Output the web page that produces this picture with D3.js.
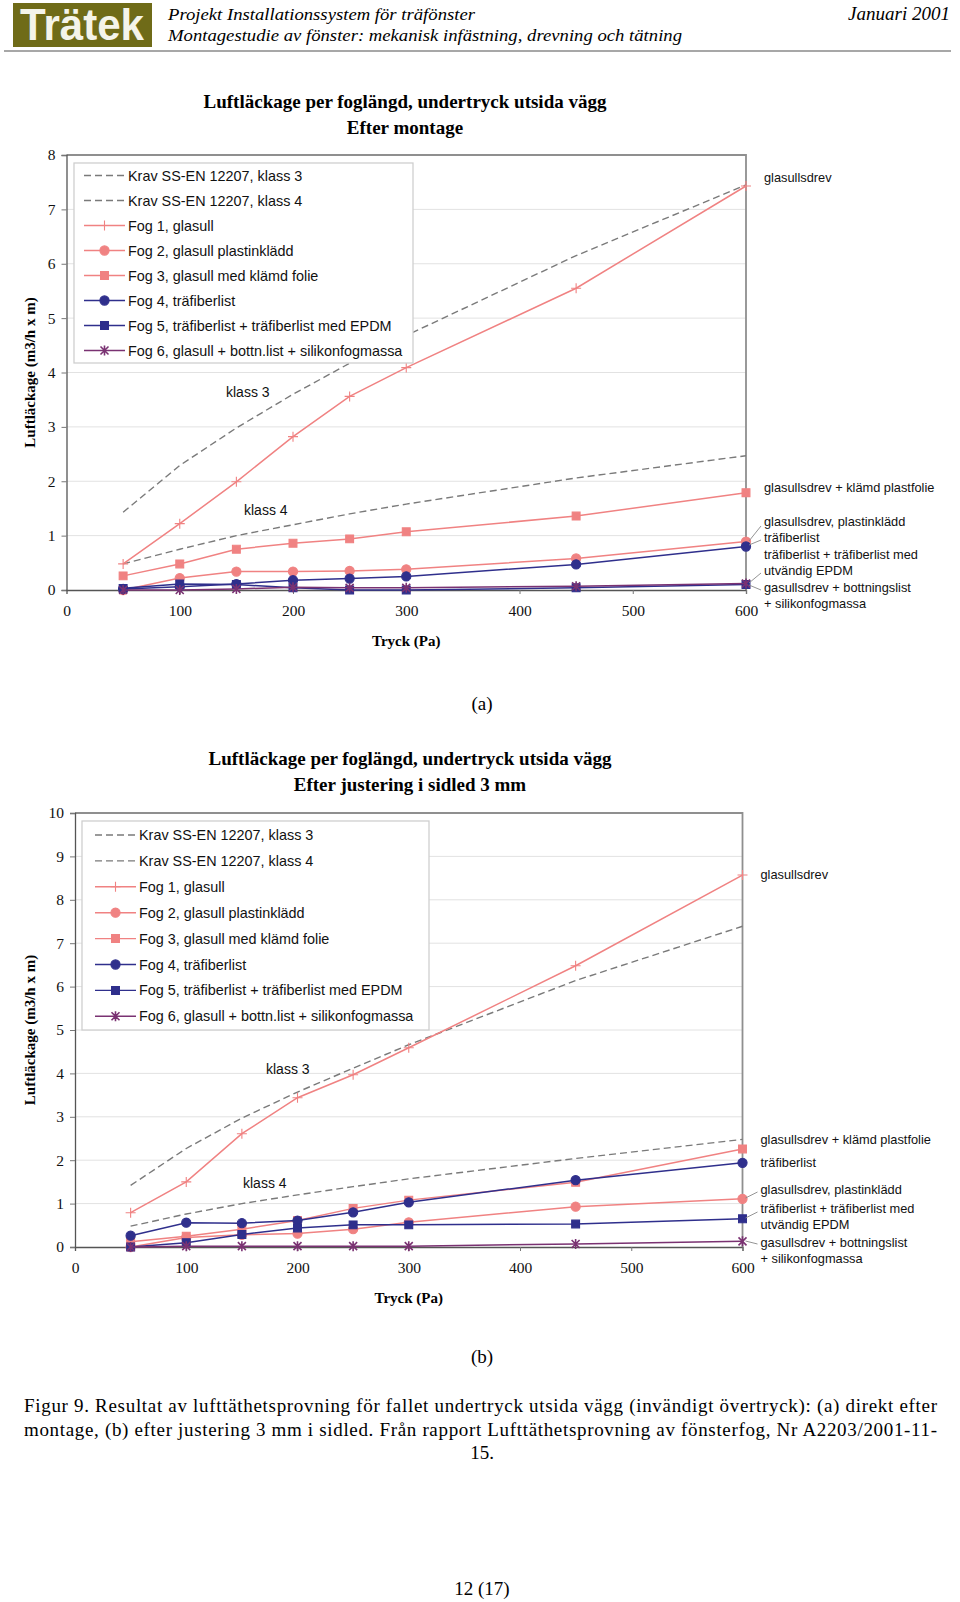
<!DOCTYPE html>
<html>
<head>
<meta charset="utf-8">
<script src="https://cdn.jsdelivr.net/npm/d3@7"></script>
<style>
  body { margin: 0; background: #fff; }
  svg { display: block; }
</style>
</head>
<body>
<div class="page"></div>
<script>
// pressure steps (Pa) and tick values
const pressure = [50, 100, 150, 200, 250, 300, 450, 600];
const xTicks = [0, 100, 200, 300, 400, 500, 600];
const yTicksA = [0, 1, 2, 3, 4, 5, 6, 7, 8];
const yTicksB = [0, 1, 2, 3, 4, 5, 6, 7, 8, 9, 10];

const seriesNames = [
  "Krav SS-EN 12207, klass 3",
  "Krav SS-EN 12207, klass 4",
  "Fog 1, glasull",
  "Fog 2, glasull plastinklädd",
  "Fog 3, glasull med klämd folie",
  "Fog 4, träfiberlist",
  "Fog 5, träfiberlist + träfiberlist med EPDM",
  "Fog 6, glasull + bottn.list + silikonfogmassa"
];

// (a) efter montage
const aKlass3 = [1.43, 2.29, 2.98, 3.60, 4.17, 4.68, 6.15, 7.45];
const aKlass4 = [0.48, 0.75, 1.00, 1.20, 1.40, 1.58, 2.06, 2.47];
const aFog1 = [0.48, 1.22, 1.99, 2.82, 3.56, 4.09, 5.55, 7.43];
const aFog2 = [0.00, 0.22, 0.34, 0.34, 0.35, 0.38, 0.58, 0.89];
const aFog3 = [0.26, 0.48, 0.75, 0.86, 0.94, 1.07, 1.36, 1.79];
const aFog4 = [0.02, 0.06, 0.11, 0.18, 0.21, 0.25, 0.47, 0.80];
const aFog5 = [0.03, 0.11, 0.10, 0.04, 0.00, 0.00, 0.04, 0.10];
const aFog6 = [0.00, 0.00, 0.02, 0.05, 0.04, 0.04, 0.07, 0.12];

// (b) efter justering i sidled 3 mm
const bKlass3 = [1.42, 2.27, 2.97, 3.57, 4.12, 4.66, 6.14, 7.39];
const bKlass4 = [0.48, 0.76, 1.00, 1.20, 1.39, 1.57, 2.04, 2.48];
const bFog1 = [0.79, 1.50, 2.61, 3.44, 3.97, 4.59, 6.48, 8.57];
const bFog2 = [0.00, 0.22, 0.28, 0.31, 0.41, 0.57, 0.93, 1.11];
const bFog3 = [0.12, 0.25, 0.41, 0.61, 0.89, 1.08, 1.49, 2.26];
const bFog4 = [0.26, 0.56, 0.55, 0.61, 0.80, 1.03, 1.54, 1.94];
const bFog5 = [0.00, 0.10, 0.29, 0.44, 0.51, 0.51, 0.53, 0.65];
const bFog6 = [0.00, 0.02, 0.02, 0.02, 0.02, 0.02, 0.07, 0.13];

const rightLabelsA = [
  ["glasullsdrev", 177, null],
  ["glasullsdrev + klämd plastfolie", 487, null],
  ["glasullsdrev, plastinklädd", 521, [541, 526]],
  ["träfiberlist", 537, [545, 540]],
  ["träfiberlist + träfiberlist med", 554, null],
  ["utvändig EPDM", 570, [583, 573]],
  ["gasullsdrev + bottningslist", 587, [585, 590]],
  ["+ silikonfogmassa", 603, null]
];
const rightLabelsB = [
  ["glasullsdrev", 874, null],
  ["glasullsdrev + klämd plastfolie", 1139, null],
  ["träfiberlist", 1162, null],
  ["glasullsdrev, plastinklädd", 1189, [1198, 1192]],
  ["träfiberlist + träfiberlist med", 1208, [1218, 1212]],
  ["utvändig EPDM", 1224, null],
  ["gasullsdrev + bottningslist", 1242, [1241, 1244]],
  ["+ silikonfogmassa", 1258, null]
];

const pink = "#f08282", navy = "#2f2f8c", purple = "#7a3272", dash = "#7a7a7a";
const serif = "'Liberation Serif', 'Times New Roman', serif";
const sans = "'Liberation Sans', Arial, sans-serif";

const styles = [
  {color: dash, dash: "7,4", marker: null},
  {color: dash, dash: "7,4", marker: null},
  {color: pink, marker: "plus"},
  {color: pink, marker: "circle"},
  {color: pink, marker: "square"},
  {color: navy, marker: "circle"},
  {color: navy, marker: "square"},
  {color: purple, marker: "star"}
];

const width = 960, height = 1602;
const svg = d3.select('.page').append('svg')
  .attr('width', width)
  .attr('height', height);

// page header
svg.append('rect').attr('x', 13).attr('y', 3).attr('width', 139).attr('height', 44).attr('fill', '#6f6b18');
svg.append('text').attr('x', 20).attr('y', 40).text('Trätek')
  .attr('fill', '#f4f4ea').attr('font-family', "'Liberation Sans Narrow', " + sans)
  .attr('font-weight', 'bold').attr('font-size', 45)
  .attr('textLength', 124).attr('lengthAdjust', 'spacingAndGlyphs');
svg.append('text').attr('x', 168).attr('y', 20).text('Projekt Installationssystem för träfönster')
  .attr('font-family', serif).attr('font-style', 'italic').attr('font-size', 17.5)
  .attr('textLength', 307).attr('lengthAdjust', 'spacingAndGlyphs');
svg.append('text').attr('x', 168).attr('y', 41).text('Montagestudie av fönster: mekanisk infästning, drevning och tätning')
  .attr('font-family', serif).attr('font-style', 'italic').attr('font-size', 17.5)
  .attr('textLength', 514).attr('lengthAdjust', 'spacingAndGlyphs');
svg.append('text').attr('x', 950).attr('y', 20).text('Januari 2001')
  .attr('font-family', serif).attr('font-style', 'italic').attr('font-size', 18)
  .attr('textLength', 102).attr('lengthAdjust', 'spacingAndGlyphs')
  .attr('text-anchor', 'end');
svg.append('line').attr('x1', 4).attr('x2', 951).attr('y1', 51).attr('y2', 51)
  .attr('stroke', '#8a8a8a').attr('stroke-width', 1.5);

function markerPath(type) {
  if (type === "plus") return "M-5,0H5M0,-5V5";
  if (type === "star") return "M-4,-4L4,4M-4,4L4,-4M0,-5V5";
  if (type === "square") return d3.symbol(d3.symbolSquare).size(62)();
  return d3.symbol(d3.symbolCircle).size(66)();
}

function drawPanel(cfg) {
  const g = svg.append('g');
  const x = d3.scaleLinear().domain([0, 600]).range([cfg.x0, cfg.x1]);
  const y = d3.scaleLinear().domain([0, cfg.yMax]).range([cfg.yBot, cfg.yTop]);

  // titles
  cfg.title.forEach((t, i) => {
    g.append('text').attr('x', cfg.titleX).attr('y', cfg.titleY + i * 26).text(t)
      .attr('font-family', serif).attr('font-weight', 'bold').attr('font-size', 19)
      .attr('text-anchor', 'middle');
  });

  // gridlines
  g.selectAll('.grid').data(cfg.yTicks.slice(1, -1)).enter().append('line')
    .attr('x1', cfg.x0).attr('x2', cfg.x1)
    .attr('y1', d => y(d)).attr('y2', d => y(d))
    .attr('stroke', '#e2e2e2').attr('stroke-width', 1);

  // top and right frame
  g.append('path')
    .attr('d', `M${cfg.x0},${cfg.yTop}H${cfg.x1}V${cfg.yBot}`)
    .attr('fill', 'none').attr('stroke', '#8f8f8f').attr('stroke-width', 1.8);

  // axes
  const yAxis = g.append('g').attr('transform', `translate(${cfg.x0},0)`)
    .call(d3.axisLeft(y).tickValues(cfg.yTicks).tickSize(5).tickPadding(6).tickFormat(d3.format('d')));
  const xAxis = g.append('g').attr('transform', `translate(0,${cfg.yBot})`)
    .call(d3.axisBottom(x).tickValues(xTicks).tickSize(4).tickPadding(11).tickFormat(d3.format('d')));
  [yAxis, xAxis].forEach(a => {
    a.select('.domain').attr('stroke', '#555').attr('stroke-width', 1.3);
    a.selectAll('.tick line').attr('stroke', '#777');
    a.selectAll('text').attr('font-family', serif).attr('font-size', 15.5).attr('fill', '#111');
  });
  xAxis.selectAll('.tick').filter(d => d === 0).select('line').remove();

  g.append('text').attr('x', (cfg.x0 + cfg.x1) / 2).attr('y', cfg.yBot + 56).text('Tryck (Pa)')
    .attr('font-family', serif).attr('font-weight', 'bold').attr('font-size', 15)
    .attr('text-anchor', 'middle');
  g.append('text')
    .attr('transform', `translate(35,${(cfg.yTop + cfg.yBot) / 2}) rotate(-90)`)
    .text('Luftläckage (m3/h x m)')
    .attr('font-family', serif).attr('font-weight', 'bold').attr('font-size', 15)
    .attr('text-anchor', 'middle');

  // series
  const line = d3.line().x((d, i) => x(pressure[i])).y(d => y(d));
  cfg.series.forEach((vals, si) => {
    const st = styles[si];
    g.append('path').datum(vals).attr('d', line)
      .attr('fill', 'none').attr('stroke', st.color)
      .attr('stroke-width', st.marker ? 1.5 : 1.4)
      .attr('stroke-dasharray', st.dash || null);
    if (st.marker) {
      g.selectAll(null).data(vals).enter().append('path')
        .attr('transform', (d, i) => `translate(${x(pressure[i])},${y(d)})`)
        .attr('d', markerPath(st.marker))
        .attr('fill', (st.marker === 'plus' || st.marker === 'star') ? 'none' : st.color)
        .attr('stroke', st.color).attr('stroke-width', st.marker === 'star' ? 1.6 : 1.1);
    }
  });

  // legend
  const L = cfg.legend;
  const lg = g.append('g');
  lg.append('rect').attr('x', L.x).attr('y', L.y).attr('width', L.w).attr('height', L.h)
    .attr('fill', '#fff').attr('stroke', '#cfcfcf').attr('stroke-width', 1.3);
  seriesNames.forEach((name, i) => {
    const st = styles[i];
    const ry = L.row0 + i * L.step;
    lg.append('line').attr('x1', L.l0).attr('x2', L.l1).attr('y1', ry).attr('y2', ry)
      .attr('stroke', st.color).attr('stroke-width', 1.4)
      .attr('stroke-dasharray', st.dash || null);
    if (st.marker) {
      lg.append('path').attr('transform', `translate(${(L.l0 + L.l1) / 2},${ry})`)
        .attr('d', markerPath(st.marker))
        .attr('fill', (st.marker === 'plus' || st.marker === 'star') ? 'none' : st.color)
        .attr('stroke', st.color).attr('stroke-width', st.marker === 'star' ? 1.6 : 1.1);
    }
    lg.append('text').attr('x', L.tx).attr('y', ry + 5).text(name)
      .attr('font-family', sans).attr('font-size', 14.4).attr('fill', '#111');
  });

  // klass annotations
  cfg.klass.forEach(k => {
    g.append('text').attr('x', k[1]).attr('y', k[2] + 5).text(k[0])
      .attr('font-family', sans).attr('font-size', 14).attr('fill', '#111');
  });

  // right-side labels with leaders
  cfg.right.forEach(r => {
    g.append('text').attr('x', cfg.x1 + 18).attr('y', r[1] + 4.5).text(r[0])
      .attr('font-family', sans).attr('font-size', 12.8).attr('fill', '#111');
    if (r[2]) {
      g.append('line').attr('x1', cfg.x1 + 3).attr('y1', r[2][0])
        .attr('x2', cfg.x1 + 15).attr('y2', r[2][1])
        .attr('stroke', '#888').attr('stroke-width', 0.9);
    }
  });

  g.append('text').attr('x', 482).attr('y', cfg.subY).text(cfg.sub)
    .attr('font-family', serif).attr('font-size', 19).attr('text-anchor', 'middle');
}

drawPanel({
  x0: 66.5, x1: 746, yTop: 155, yBot: 590, yMax: 8, yTicks: yTicksA,
  title: ['Luftläckage per foglängd, undertryck utsida vägg', 'Efter montage'],
  titleX: 405, titleY: 108,
  series: [aKlass3, aKlass4, aFog1, aFog2, aFog3, aFog4, aFog5, aFog6],
  legend: {x: 74, y: 163, w: 339, h: 200, row0: 175.5, step: 25, l0: 84, l1: 125, tx: 128},
  klass: [['klass 3', 226, 392], ['klass 4', 244, 510]],
  right: rightLabelsA,
  sub: '(a)', subY: 710
});

drawPanel({
  x0: 75, x1: 742.5, yTop: 813, yBot: 1247, yMax: 10, yTicks: yTicksB,
  title: ['Luftläckage per foglängd, undertryck utsida vägg', 'Efter justering i sidled 3 mm'],
  titleX: 410, titleY: 765,
  series: [bKlass3, bKlass4, bFog1, bFog2, bFog3, bFog4, bFog5, bFog6],
  legend: {x: 82, y: 821, w: 347, h: 209, row0: 835, step: 25.9, l0: 95, l1: 136, tx: 139},
  klass: [['klass 3', 266, 1069], ['klass 4', 243, 1183]],
  right: rightLabelsB,
  sub: '(b)', subY: 1363
});

// caption and page number
const caption = [
  'Figur 9. Resultat av lufttäthetsprovning för fallet undertryck utsida vägg (invändigt övertryck): (a) direkt efter',
  'montage, (b) efter justering 3 mm i sidled. Från rapport Lufttäthetsprovning av fönsterfog, Nr A2203/2001-11-'
];
caption.forEach((t, i) => {
  svg.append('text').attr('x', 24).attr('y', 1412 + i * 23.5).text(t)
    .attr('font-family', serif).attr('font-size', 19)
    .attr('textLength', 913).attr('lengthAdjust', 'spacing');
});
svg.append('text').attr('x', 482).attr('y', 1459).text('15.')
  .attr('font-family', serif).attr('font-size', 19).attr('text-anchor', 'middle');
svg.append('text').attr('x', 482).attr('y', 1595).text('12 (17)')
  .attr('font-family', serif).attr('font-size', 19).attr('text-anchor', 'middle');
</script>
</body>
</html>
